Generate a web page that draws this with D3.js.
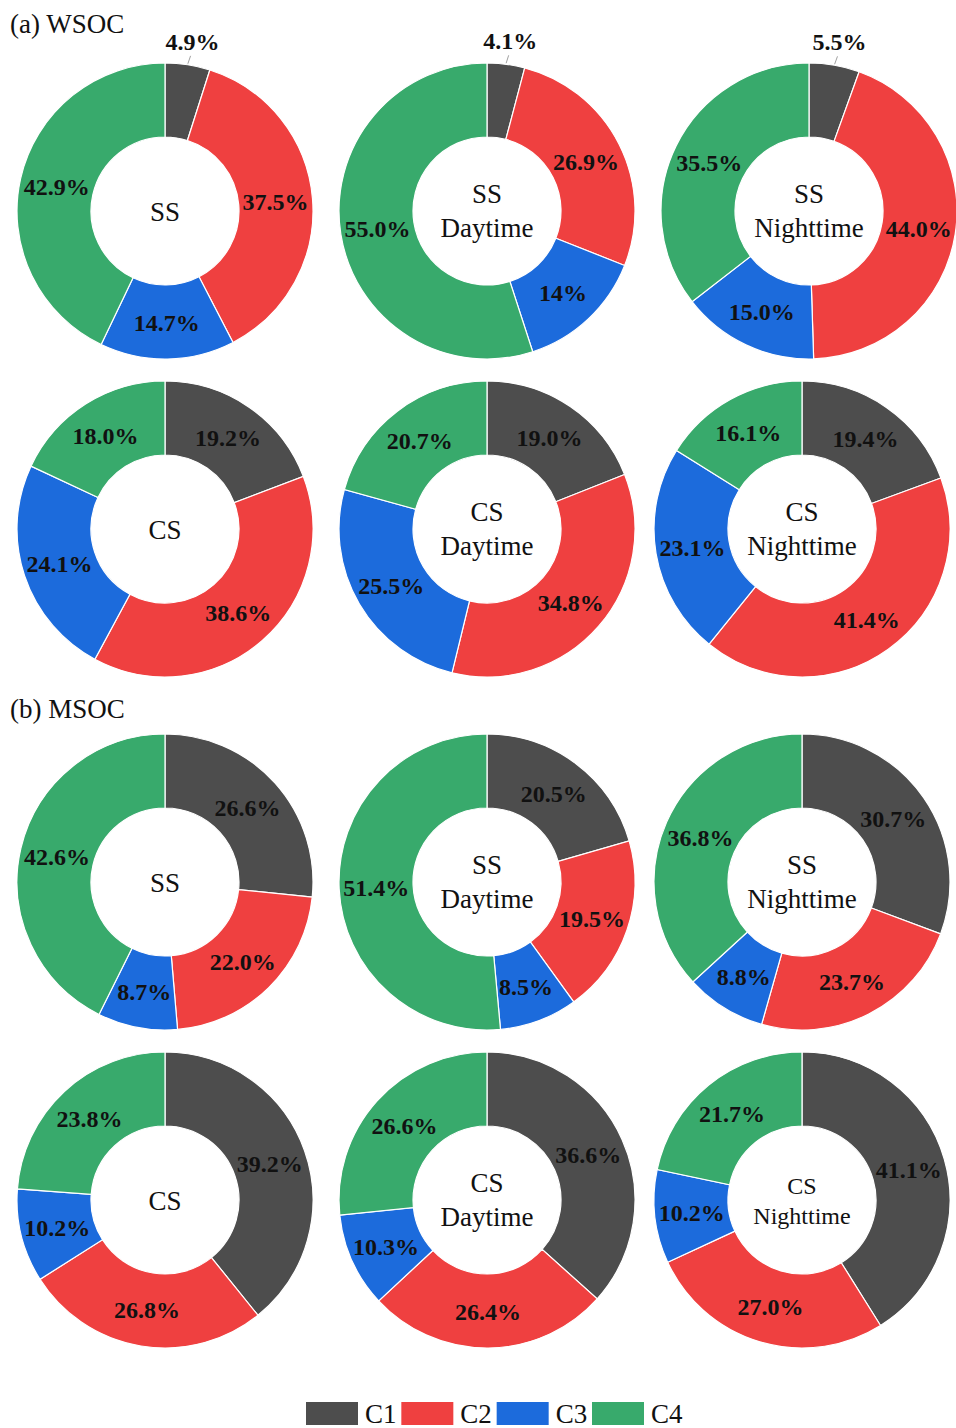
<!DOCTYPE html>
<html>
<head>
<meta charset="utf-8">
<script src="https://cdn.jsdelivr.net/npm/d3@7"></script>
<style>
  html, body { margin: 0; padding: 0; background: #fff; }
  svg { display: block; }
  text { font-family: "Liberation Serif", Tinos, "Times New Roman", serif; }
</style>
</head>
<body>
<svg id="chart" width="956" height="1428"></svg>
<script>
// Component shares (%) for C1..C4, by site / time of day
const components = ["C1", "C2", "C3", "C4"];
const colors = ["#4d4d4d", "#ef4040", "#1c6bdc", "#38aa6c"];

const panelNames = [["SS"], ["SS", "Daytime"], ["SS", "Nighttime"],
                    ["CS"], ["CS", "Daytime"], ["CS", "Nighttime"]];

const wsocValues = [
  [4.9, 37.5, 14.7, 42.9],
  [4.1, 26.9, 14, 55.0],
  [5.5, 44.0, 15.0, 35.5],
  [19.2, 38.6, 24.1, 18.0],
  [19.0, 34.8, 25.5, 20.7],
  [19.4, 41.4, 23.1, 16.1]
];
const wsocLabels = [
  ["4.9%", "37.5%", "14.7%", "42.9%"],
  ["4.1%", "26.9%", "14%", "55.0%"],
  ["5.5%", "44.0%", "15.0%", "35.5%"],
  ["19.2%", "38.6%", "24.1%", "18.0%"],
  ["19.0%", "34.8%", "25.5%", "20.7%"],
  ["19.4%", "41.4%", "23.1%", "16.1%"]
];

const msocValues = [
  [26.6, 22.0, 8.7, 42.6],
  [20.5, 19.5, 8.5, 51.4],
  [30.7, 23.7, 8.8, 36.8],
  [39.2, 26.8, 10.2, 23.8],
  [36.6, 26.4, 10.3, 26.6],
  [41.1, 27.0, 10.2, 21.7]
];
const msocLabels = [
  ["26.6%", "22.0%", "8.7%", "42.6%"],
  ["20.5%", "19.5%", "8.5%", "51.4%"],
  ["30.7%", "23.7%", "8.8%", "36.8%"],
  ["39.2%", "26.8%", "10.2%", "23.8%"],
  ["36.6%", "26.4%", "10.3%", "26.6%"],
  ["41.1%", "27.0%", "10.2%", "21.7%"]
];

const groupTitles = ["(a) WSOC", "(b) MSOC"];

// ---- layout ----
const svg = d3.select("#chart");
const outerR = 148, innerR = 74, labelR = 111;
const rowY = [211, 529, 882, 1200];
const colX = [[165, 487, 809], [165, 487, 802], [165, 487, 802], [165, 487, 802]];
const titleY = [33, 718];
const labelSize = 24;

const color = d3.scaleOrdinal().domain(components).range(colors);
const pie = d3.pie().sort(null).value(d => d.value);
const arc = d3.arc().innerRadius(innerR).outerRadius(outerR);
const labelArc = d3.arc().innerRadius(labelR).outerRadius(labelR);

function drawDonut(cx, cy, values, labels, name, nameSize) {
  const g = svg.append("g").attr("transform", `translate(${cx},${cy})`);
  const data = components.map((c, i) => ({ key: c, value: values[i], label: labels[i] }));
  const arcs = pie(data);

  g.selectAll("path.slice")
    .data(arcs)
    .join("path")
    .attr("class", "slice")
    .attr("d", arc)
    .attr("fill", d => color(d.data.key))
    .attr("stroke", "#fff")
    .attr("stroke-width", 1.2);

  arcs.forEach(d => {
    const span = d.endAngle - d.startAngle;
    const mid = (d.startAngle + d.endAngle) / 2;
    if (span < 0.4) {
      // thin slice: label outside with a short leader
      const p1 = [Math.sin(mid) * (outerR + 1), -Math.cos(mid) * (outerR + 1)];
      const p2 = [Math.sin(mid) * (outerR + 9) + 1.5, -Math.cos(mid) * (outerR + 9)];
      g.append("line")
        .attr("x1", p1[0]).attr("y1", p1[1])
        .attr("x2", p2[0]).attr("y2", p2[1])
        .attr("stroke", "#888").attr("stroke-width", 0.8);
      g.append("text")
        .attr("x", Math.sin(mid) * (outerR + 18) + 2)
        .attr("y", -Math.cos(mid) * (outerR + 18) + 3)
        .attr("text-anchor", "middle")
        .attr("font-size", labelSize)
        .attr("font-weight", "bold")
        .attr("fill", "#111")
        .text(d.data.label);
    } else {
      const [lx, ly] = labelArc.centroid(d);
      g.append("text")
        .attr("x", lx)
        .attr("y", ly)
        .attr("dy", "0.36em")
        .attr("text-anchor", "middle")
        .attr("font-size", labelSize)
        .attr("font-weight", "bold")
        .attr("fill", "#111")
        .text(d.data.label);
    }
  });

  // centre caption
  const t = g.append("text")
    .attr("text-anchor", "middle")
    .attr("font-size", nameSize)
    .attr("fill", "#111");
  if (name.length === 1) {
    t.append("tspan").attr("x", 0).attr("y", 10).text(name[0]);
  } else {
    const gap = nameSize * 1.24;
    t.append("tspan").attr("x", 0).attr("y", 10 - gap / 2 - 1).text(name[0]);
    t.append("tspan").attr("x", 0).attr("y", 10 + gap / 2 - 1).text(name[1]);
  }
}

[[wsocValues, wsocLabels], [msocValues, msocLabels]].forEach(([vals, labs], gi) => {
  svg.append("text")
    .attr("x", 10).attr("y", titleY[gi])
    .attr("font-size", 27)
    .attr("fill", "#111")
    .text(groupTitles[gi]);
  vals.forEach((v, i) => {
    const row = gi * 2 + Math.floor(i / 3);
    const col = i % 3;
    const size = (gi === 1 && i === 5) ? 24 : 27;
    drawDonut(colX[row][col], rowY[row], v, labs[i], panelNames[i], size);
  });
});

// ---- legend ----
const legendX = d3.scalePoint().domain(components).range([306, 592]);
const lg = svg.append("g");
components.forEach(c => {
  lg.append("rect")
    .attr("x", legendX(c)).attr("y", 1402)
    .attr("width", 52).attr("height", 23)
    .attr("fill", color(c));
  lg.append("text")
    .attr("x", legendX(c) + 59).attr("y", 1423)
    .attr("font-size", 27)
    .attr("fill", "#111")
    .text(c);
});
</script>
</body>
</html>
